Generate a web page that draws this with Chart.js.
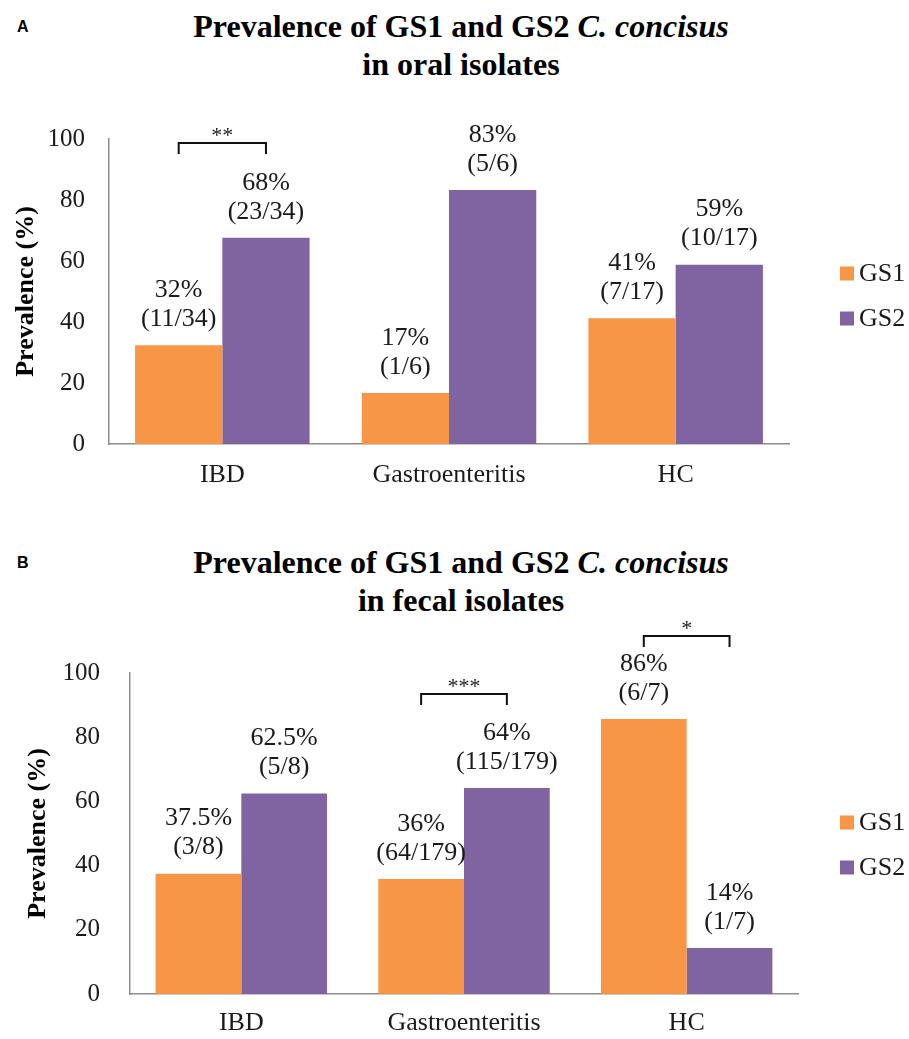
<!DOCTYPE html>
<html>
<head>
<meta charset="utf-8">
<script src="https://cdn.jsdelivr.net/npm/chart.js@4/dist/chart.umd.min.js"></script>
<style>
  html, body { margin: 0; padding: 0; background: #fff; }
  body { width: 909px; height: 1039px; position: relative; overflow: hidden; }
  .panel { position: absolute; left: 0; width: 909px; }
  .title { position: absolute; left: 161px; width: 600px; text-align: center;
           font-family: "Liberation Serif", "Times New Roman", serif; font-weight: bold;
           font-size: 32px; line-height: 38px; color: #000; }
  .plabel { position: absolute; left: 17px; font-family: "Liberation Sans", Arial, sans-serif;
            font-weight: bold; font-size: 16px; color: #000; }
  canvas { position: absolute; left: 0; }
</style>
</head>
<body>
<div class="plabel" style="top:18px">A</div>
<div class="title" style="top:7px">Prevalence of GS1 and GS2 <i>C. concisus</i><br>in oral isolates</div>
<div class="panel" style="top:0;height:500px"><canvas id="chartA" width="909" height="500"></canvas></div>

<div class="plabel" style="top:554px">B</div>
<div class="title" style="top:543px">Prevalence of GS1 and GS2 <i>C. concisus</i><br>in fecal isolates</div>
<div class="panel" style="top:520px;height:519px"><canvas id="chartB" width="909" height="519"></canvas></div>

<script>
// ---- data ----
const categories = ['IBD', 'Gastroenteritis', 'HC'];
const seriesNames = ['GS1', 'GS2'];
const yTicks = [0, 20, 40, 60, 80, 100];

const oralGS1 = [32.4, 16.7, 41.2];
const oralGS2 = [67.6, 83.3, 58.8];
const oralGS1Labels = [['32%', '(11/34)'], ['17%', '(1/6)'], ['41%', '(7/17)']];
const oralGS2Labels = [['68%', '(23/34)'], ['83%', '(5/6)'], ['59%', '(10/17)']];
const oralBrackets = [{ cat: 0, y: 98.7, text: '**' }];

const fecalGS1 = [37.5, 35.8, 85.7];
const fecalGS2 = [62.5, 64.2, 14.3];
const fecalGS1Labels = [['37.5%', '(3/8)'], ['36%', '(64/179)'], ['86%', '(6/7)']];
const fecalGS2Labels = [['62.5%', '(5/8)'], ['64%', '(115/179)'], ['14%', '(1/7)']];
const fecalBrackets = [{ cat: 1, y: 93.5, text: '***' }, { cat: 2, y: 111.5, text: '*' }];

// ---- styles ----
const ORANGE = '#F79646';
const PURPLE = '#8064A2';
const SERIF = '"Liberation Serif", "Times New Roman", serif';
const AXIS = '#8c8c8c';
const TEXT = '#1a1a1a';
const LEGEND_X = 840;

const annotate = {
  id: 'annotate',
  afterDatasetsDraw(chart, args, opts) {
    const ctx = chart.ctx;
    ctx.save();
    // value labels
    ctx.font = '26px ' + SERIF;
    ctx.fillStyle = TEXT;
    ctx.textAlign = 'center';
    ctx.textBaseline = 'middle';
    chart.data.datasets.forEach((ds, di) => {
      const meta = chart.getDatasetMeta(di);
      meta.data.forEach((bar, i) => {
        const lines = opts.labels[di][i];
        ctx.fillText(lines[0], bar.x, bar.y - 55);
        ctx.fillText(lines[1], bar.x, bar.y - 26);
      });
    });
    // significance brackets
    const ys = chart.scales.y;
    ctx.strokeStyle = '#111';
    ctx.lineWidth = 2;
    opts.brackets.forEach(b => {
      const x1 = chart.getDatasetMeta(0).data[b.cat].x;
      const x2 = chart.getDatasetMeta(1).data[b.cat].x;
      const y = Math.round(ys.getPixelForValue(b.y));
      ctx.beginPath();
      ctx.moveTo(x1, y + 11);
      ctx.lineTo(x1, y);
      ctx.lineTo(x2, y);
      ctx.lineTo(x2, y + 11);
      ctx.stroke();
      ctx.font = '22px ' + SERIF;
      ctx.textBaseline = 'alphabetic';
      ctx.fillText(b.text, (x1 + x2) / 2, y - 1);
    });
    // legend
    const ca = chart.chartArea;
    const cy = (ca.top + ca.bottom) / 2;
    ctx.font = '26px ' + SERIF;
    ctx.textAlign = 'left';
    ctx.textBaseline = 'middle';
    chart.data.datasets.forEach((ds, di) => {
      const y = cy + opts.legendOffsets[di];
      ctx.fillStyle = ds.backgroundColor;
      ctx.fillRect(LEGEND_X, y - 7, 14, 14);
      ctx.fillStyle = TEXT;
      ctx.fillText(ds.label, LEGEND_X + 19, y + 1);
    });
    ctx.restore();
  }
};

function makeChart(id, gs1, gs2, labels1, labels2, brackets, cfg) {
  return new Chart(document.getElementById(id), {
    type: 'bar',
    data: {
      labels: categories,
      datasets: [
        { label: seriesNames[0], data: gs1, backgroundColor: ORANGE, borderWidth: 0 },
        { label: seriesNames[1], data: gs2, backgroundColor: PURPLE, borderWidth: 0 }
      ]
    },
    plugins: [annotate],
    options: {
      responsive: false,
      animation: false,
      events: [],
      categoryPercentage: 0.77,
      barPercentage: 1.0,
      layout: { padding: { top: cfg.top, left: 0, right: cfg.right, bottom: 0 } },
      plugins: {
        legend: { display: false },
        tooltip: { enabled: false },
        title: { display: false },
        annotate: { labels: [labels1, labels2], brackets: brackets, legendOffsets: cfg.legendOffsets }
      },
      scales: {
        x: {
          grid: { display: false, drawTicks: false },
          border: { display: true, color: AXIS, width: 1.5 },
          ticks: { font: { family: SERIF, size: 26 }, color: TEXT, padding: cfg.xPad, maxRotation: 0 },
          afterFit(scale) { scale.height = cfg.xHeight; }
        },
        y: {
          min: 0, max: 100,
          afterBuildTicks(scale) { scale.ticks = yTicks.map(v => ({ value: v })); },
          grid: { display: false, drawTicks: false },
          border: { display: true, color: AXIS, width: 1.5 },
          ticks: { font: { family: SERIF, size: 25 }, color: TEXT, padding: cfg.yPad },
          title: {
            display: true, text: 'Prevalence (%)',
            font: { family: SERIF, size: 26, weight: 'bold' }, color: '#000',
            padding: { top: cfg.titlePad, bottom: 0 }
          },
          afterFit(scale) { scale.width = cfg.yWidth; }
        }
      }
    }
  });
}

makeChart('chartA', oralGS1, oralGS2, oralGS1Labels, oralGS2Labels, oralBrackets,
  { top: 139, right: 120, xHeight: 56, xPad: 16, yPad: 24, yWidth: 109, titlePad: 11, legendOffsets: [-18, 27] });
makeChart('chartB', fecalGS1, fecalGS2, fecalGS1Labels, fecalGS2Labels, fecalBrackets,
  { top: 153, right: 111, xHeight: 43, xPad: 14, yPad: 30, yWidth: 130, titlePad: 23, legendOffsets: [-11, 34] });
</script>
</body>
</html>
